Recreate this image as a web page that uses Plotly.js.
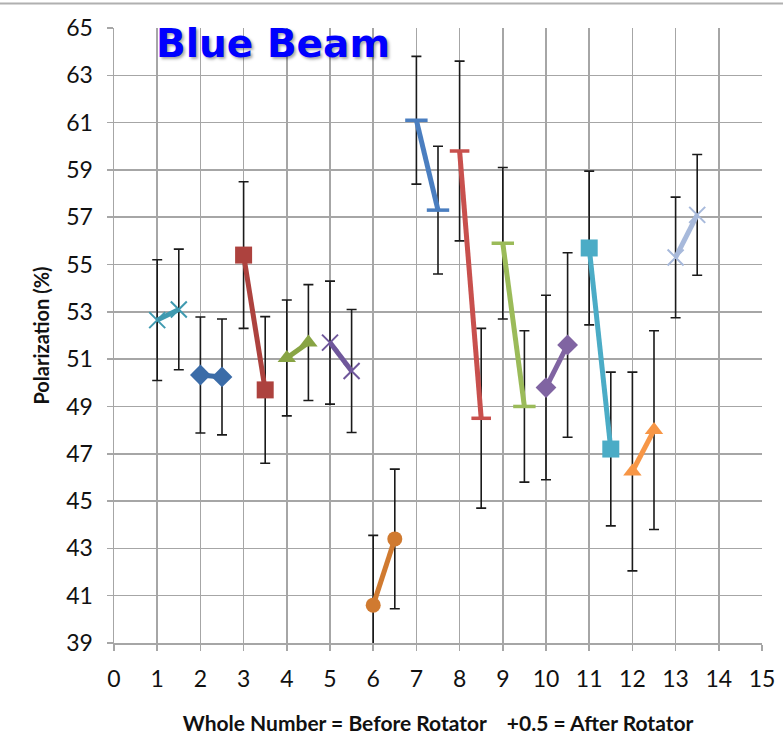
<!DOCTYPE html>
<html>
<head>
<meta charset="utf-8">
<script src="https://cdn.plot.ly/plotly-3.0.1.min.js"></script>
<style>
html,body{margin:0;padding:0;background:#fff;}
#chart{width:783px;height:750px;}
</style>
</head>
<body>
<div id="chart"></div>
<script>
// Data
const xBefore = [1, 2, 3, 4, 5, 6, 7, 8, 9, 10, 11, 12, 13];
const xAfter = [1.5, 2.5, 3.5, 4.5, 5.5, 6.5, 7.5, 8.5, 9.5, 10.5, 11.5, 12.5, 13.5];
const polBefore = [52.65, 50.33, 55.4, 51.05, 51.7, 40.6, 61.1, 59.8, 55.9, 49.8, 55.7, 46.25, 55.3];
const polAfter = [53.1, 50.25, 49.7, 51.7, 50.5, 43.4, 57.3, 48.5, 49.0, 51.6, 47.2, 48.0, 57.1];
const polError = [2.55, 2.45, 3.1, 2.45, 2.6, 2.95, 2.7, 3.8, 3.2, 3.9, 3.25, 4.2, 2.55];
const xTicks = [0,1,2,3,4,5,6,7,8,9,10,11,12,13,14,15];
const yTicks = [39,41,43,45,47,49,51,53,55,57,59,61,63,65];

const seriesColors = ['#3F9AB0','#3B6CA8','#AD423E','#88A444','#6F579B','#D07A30','#4A7EC0','#C8504D','#9BBB59','#8064A2','#4BACC6','#F79646','#A7B9DB'];
const seriesSymbols = ['x-thin-open','diamond','square','triangle-up','x-thin-open','circle','line-ew-open','line-ew-open','line-ew-open','diamond','square','triangle-up','x-thin-open'];
const seriesSizes = [16,16,17,16,16,15,16,14,16,16,17,16,16];

const errTraces = [];
const lineTraces = [];
for (let i = 0; i < xBefore.length; i++) {
  const xs = [xBefore[i], xAfter[i]];
  const ys = [polBefore[i], polAfter[i]];
  errTraces.push({
    type: 'scatter', mode: 'markers', x: xs, y: ys,
    marker: {size: 1, opacity: 0},
    error_y: {type: 'constant', value: polError[i], color: '#1a1a1a', thickness: 1.6, width: 5},
    hoverinfo: 'skip', showlegend: false
  });
  const sym = seriesSymbols[i];
  const open = sym.indexOf('open') >= 0;
  lineTraces.push({
    type: 'scatter', mode: 'lines+markers', x: xs, y: ys,
    line: {color: seriesColors[i], width: 5},
    marker: {
      symbol: sym, size: seriesSizes[i], color: seriesColors[i],
      line: {color: seriesColors[i], width: open ? (sym.indexOf('line') === 0 ? 3.5 : 2) : 0}
    },
    showlegend: false, cliponaxis: true
  });
}

const axisFont = {family: 'Lato, "Open Sans", sans-serif', size: 23, color: '#111'};

const layout = {
  width: 783, height: 750,
  margin: {l: 114, r: 21, t: 28, b: 107},
  paper_bgcolor: '#fff', plot_bgcolor: '#fff',
  showlegend: false,
  xaxis: {
    range: [0, 15], tickvals: xTicks, ticktext: xTicks.map(String),
    showgrid: true, gridcolor: '#a6a6a6', gridwidth: 1.5,
    showline: true, linecolor: '#a6a6a6', linewidth: 1.5,
    ticks: 'outside', ticklen: 6, tickcolor: '#a6a6a6', tickwidth: 1.5,
    zeroline: false, tickfont: axisFont, ticklabelstandoff: 9,
    title: {text: 'Whole Number = Before Rotator    +0.5 = After Rotator',
            font: {family: 'Lato, "Open Sans", sans-serif', size: 21, color: '#111', weight: 'bold'},
            standoff: 25}
  },
  yaxis: {
    range: [39, 65], tickvals: yTicks, ticktext: yTicks.map(String),
    showgrid: true, gridcolor: '#a6a6a6', gridwidth: 1.5,
    showline: true, linecolor: '#a6a6a6', linewidth: 1.5,
    ticks: 'outside', ticklen: 6, tickcolor: '#a6a6a6', tickwidth: 1.5,
    zeroline: false, tickfont: axisFont, ticklabelstandoff: 9,
    title: {text: 'Polarization (%)',
            font: {family: 'Lato, "Open Sans", sans-serif', size: 20, color: '#111', weight: 'bold'},
            standoff: 11}
  },
  annotations: [{
    xref: 'paper', yref: 'paper', x: 0.245, y: 0.975,
    xanchor: 'center', yanchor: 'middle', showarrow: false,
    text: 'Blue Beam',
    font: {family: '"DejaVu Sans", sans-serif', size: 39, color: '#0000FF', weight: 'bold',
           shadow: '2px 2px 3px rgba(0,0,0,0.35)'}
  }],
  shapes: [{
    type: 'line', xref: 'paper', yref: 'paper',
    x0: -0.2, x1: 1.04, y0: 1.04, y1: 1.04,
    line: {color: '#b0b0b0', width: 2}
  }]
};

Plotly.newPlot('chart', errTraces.concat(lineTraces), layout, {displayModeBar: false, staticPlot: true});
</script>
</body>
</html>
